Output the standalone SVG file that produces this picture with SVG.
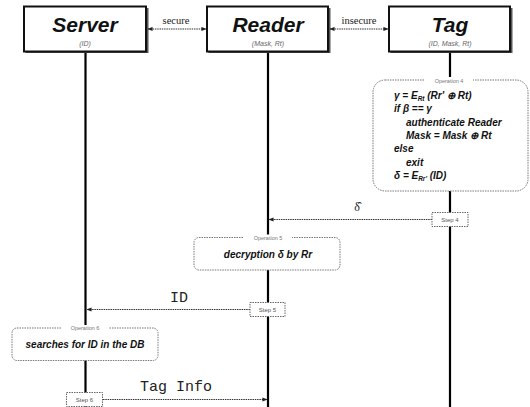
<svg xmlns="http://www.w3.org/2000/svg" width="530" height="407" viewBox="0 0 530 407">
<defs>
<marker id="ah" viewBox="0 0 6 6" refX="5.5" refY="3" markerWidth="5" markerHeight="5" orient="auto-start-reverse" markerUnits="userSpaceOnUse">
<path d="M0,0.5 L6,3 L0,5.5 z" fill="#222"/>
</marker>
<style>
.life{stroke:#000;stroke-width:2.2;fill:none}
.actor{fill:#fff;stroke:#111;stroke-width:2}
.shadow{fill:#555}
.title{font-family:"Liberation Sans",Arial,sans-serif;font-weight:bold;font-style:italic;font-size:21px;fill:#111;text-anchor:middle}
.sub{font-family:"Liberation Sans",Arial,sans-serif;font-style:italic;font-size:7px;fill:#666;text-anchor:middle}
.msg{stroke:#333;stroke-width:1.1;stroke-dasharray:1.5 0.8;fill:none}
.chan{font-family:"Liberation Serif","Times New Roman",serif;font-size:10.5px;fill:#222;text-anchor:middle}
.op{fill:#fff;stroke:#777;stroke-width:1;stroke-dasharray:1.5 1}
.oplabel{font-family:"Liberation Sans",Arial,sans-serif;font-size:5.5px;fill:#777;text-anchor:middle}
.optext{font-family:"Liberation Sans",Arial,sans-serif;font-weight:bold;font-style:italic;font-size:10px;fill:#111}
.step{fill:#fff;stroke:#666;stroke-width:1;stroke-dasharray:1.5 1}
.steptext{font-family:"Liberation Sans",Arial,sans-serif;font-size:6px;fill:#555;text-anchor:middle}
.mono{font-family:"Liberation Mono","Courier New",monospace;font-size:15px;fill:#222;text-anchor:middle}
</style>
</defs>

<g id="lifelines">
<line class="life" x1="85.5" y1="51" x2="85.5" y2="407"/>
<line class="life" x1="268" y1="51" x2="268" y2="407"/>
<line class="life" x1="450" y1="51" x2="450" y2="407"/>
</g>

<g id="server">
<rect class="shadow" x="25.5" y="8" width="123" height="45"/>
<rect class="actor" x="24" y="6.5" width="122" height="45"/>
<text class="title" x="85" y="32">Server</text>
<text class="sub" x="85" y="46">(ID)</text>
</g>
<g id="reader">
<rect class="shadow" x="208.5" y="8" width="122" height="45"/>
<rect class="actor" x="207" y="6.5" width="121" height="45"/>
<text class="title" x="268" y="32">Reader</text>
<text class="sub" x="268" y="46">(Mask, Rt)</text>
</g>
<g id="tag">
<rect class="shadow" x="390.5" y="8" width="122" height="45"/>
<rect class="actor" x="389" y="6.5" width="121" height="45"/>
<text class="title" x="450" y="32">Tag</text>
<text class="sub" x="450" y="46">(ID, Mask, Rt)</text>
</g>

<g id="connectors">
<line class="msg" x1="148" y1="29" x2="206" y2="29" marker-start="url(#ah)" marker-end="url(#ah)"/>
<text class="chan" x="176" y="24">secure</text>
<line class="msg" x1="330" y1="29" x2="388" y2="29" marker-start="url(#ah)" marker-end="url(#ah)"/>
<text class="chan" x="359" y="24">insecure</text>

<line class="msg" x1="432" y1="219.5" x2="269" y2="219.5" marker-end="url(#ah)"/>
<text class="chan" x="357" y="211" style="font-size:12px">δ̂</text>

<line class="msg" x1="250" y1="309.5" x2="87" y2="309.5" marker-end="url(#ah)"/>
<text class="mono" x="179" y="302">ID</text>

<line class="msg" x1="103" y1="399.5" x2="267" y2="399.5" marker-end="url(#ah)"/>
<text class="mono" x="176" y="391">Tag Info</text>
</g>

<g id="operation4">
<rect class="op" x="373" y="80" width="155" height="111" rx="12"/>
<rect x="425" y="77" width="48" height="6" fill="#fff"/>
<text class="oplabel" x="449" y="82.5">Operation 4</text>
<text class="optext" x="394" y="99">γ = E<tspan dy="2" style="font-size:6.5px">Rt</tspan><tspan dy="-2"> (Rr' ⊕ Rt)</tspan></text>
<text class="optext" x="394" y="112">if β == γ</text>
<text class="optext" x="406" y="125.5">authenticate Reader</text>
<text class="optext" x="406" y="138.5">Mask = Mask ⊕ Rt</text>
<text class="optext" x="394" y="152">else</text>
<text class="optext" x="406" y="165.5">exit</text>
<text class="optext" x="394" y="179">δ = E<tspan dy="2" style="font-size:6.5px">Rr'</tspan><tspan dy="-2"> (ID)</tspan></text>
</g>

<g id="step4">
<rect class="step" x="432" y="212.5" width="36" height="14"/>
<text class="steptext" x="450" y="221.5">Step 4</text>
</g>

<g id="operation5">
<rect class="op" x="194" y="237.5" width="146" height="32.5" rx="5"/>
<rect x="244" y="234.5" width="48" height="6" fill="#fff"/>
<text class="oplabel" x="268" y="239.5">Operation 5</text>
<text class="optext" x="268" y="257.5" text-anchor="middle">decryption δ by Rr</text>
</g>

<g id="step5">
<rect class="step" x="250" y="302.5" width="35" height="14"/>
<text class="steptext" x="267.5" y="311.5">Step 5</text>
</g>

<g id="operation6">
<rect class="op" x="12" y="328" width="146" height="32.5" rx="5"/>
<rect x="61" y="325" width="48" height="6" fill="#fff"/>
<text class="oplabel" x="85" y="330">Operation 6</text>
<text class="optext" x="85" y="348" text-anchor="middle">searches for ID in the DB</text>
</g>

<g id="step6">
<rect class="step" x="66.5" y="392.5" width="36" height="14"/>
<text class="steptext" x="84.5" y="401.5">Step 6</text>
</g>
</svg>
